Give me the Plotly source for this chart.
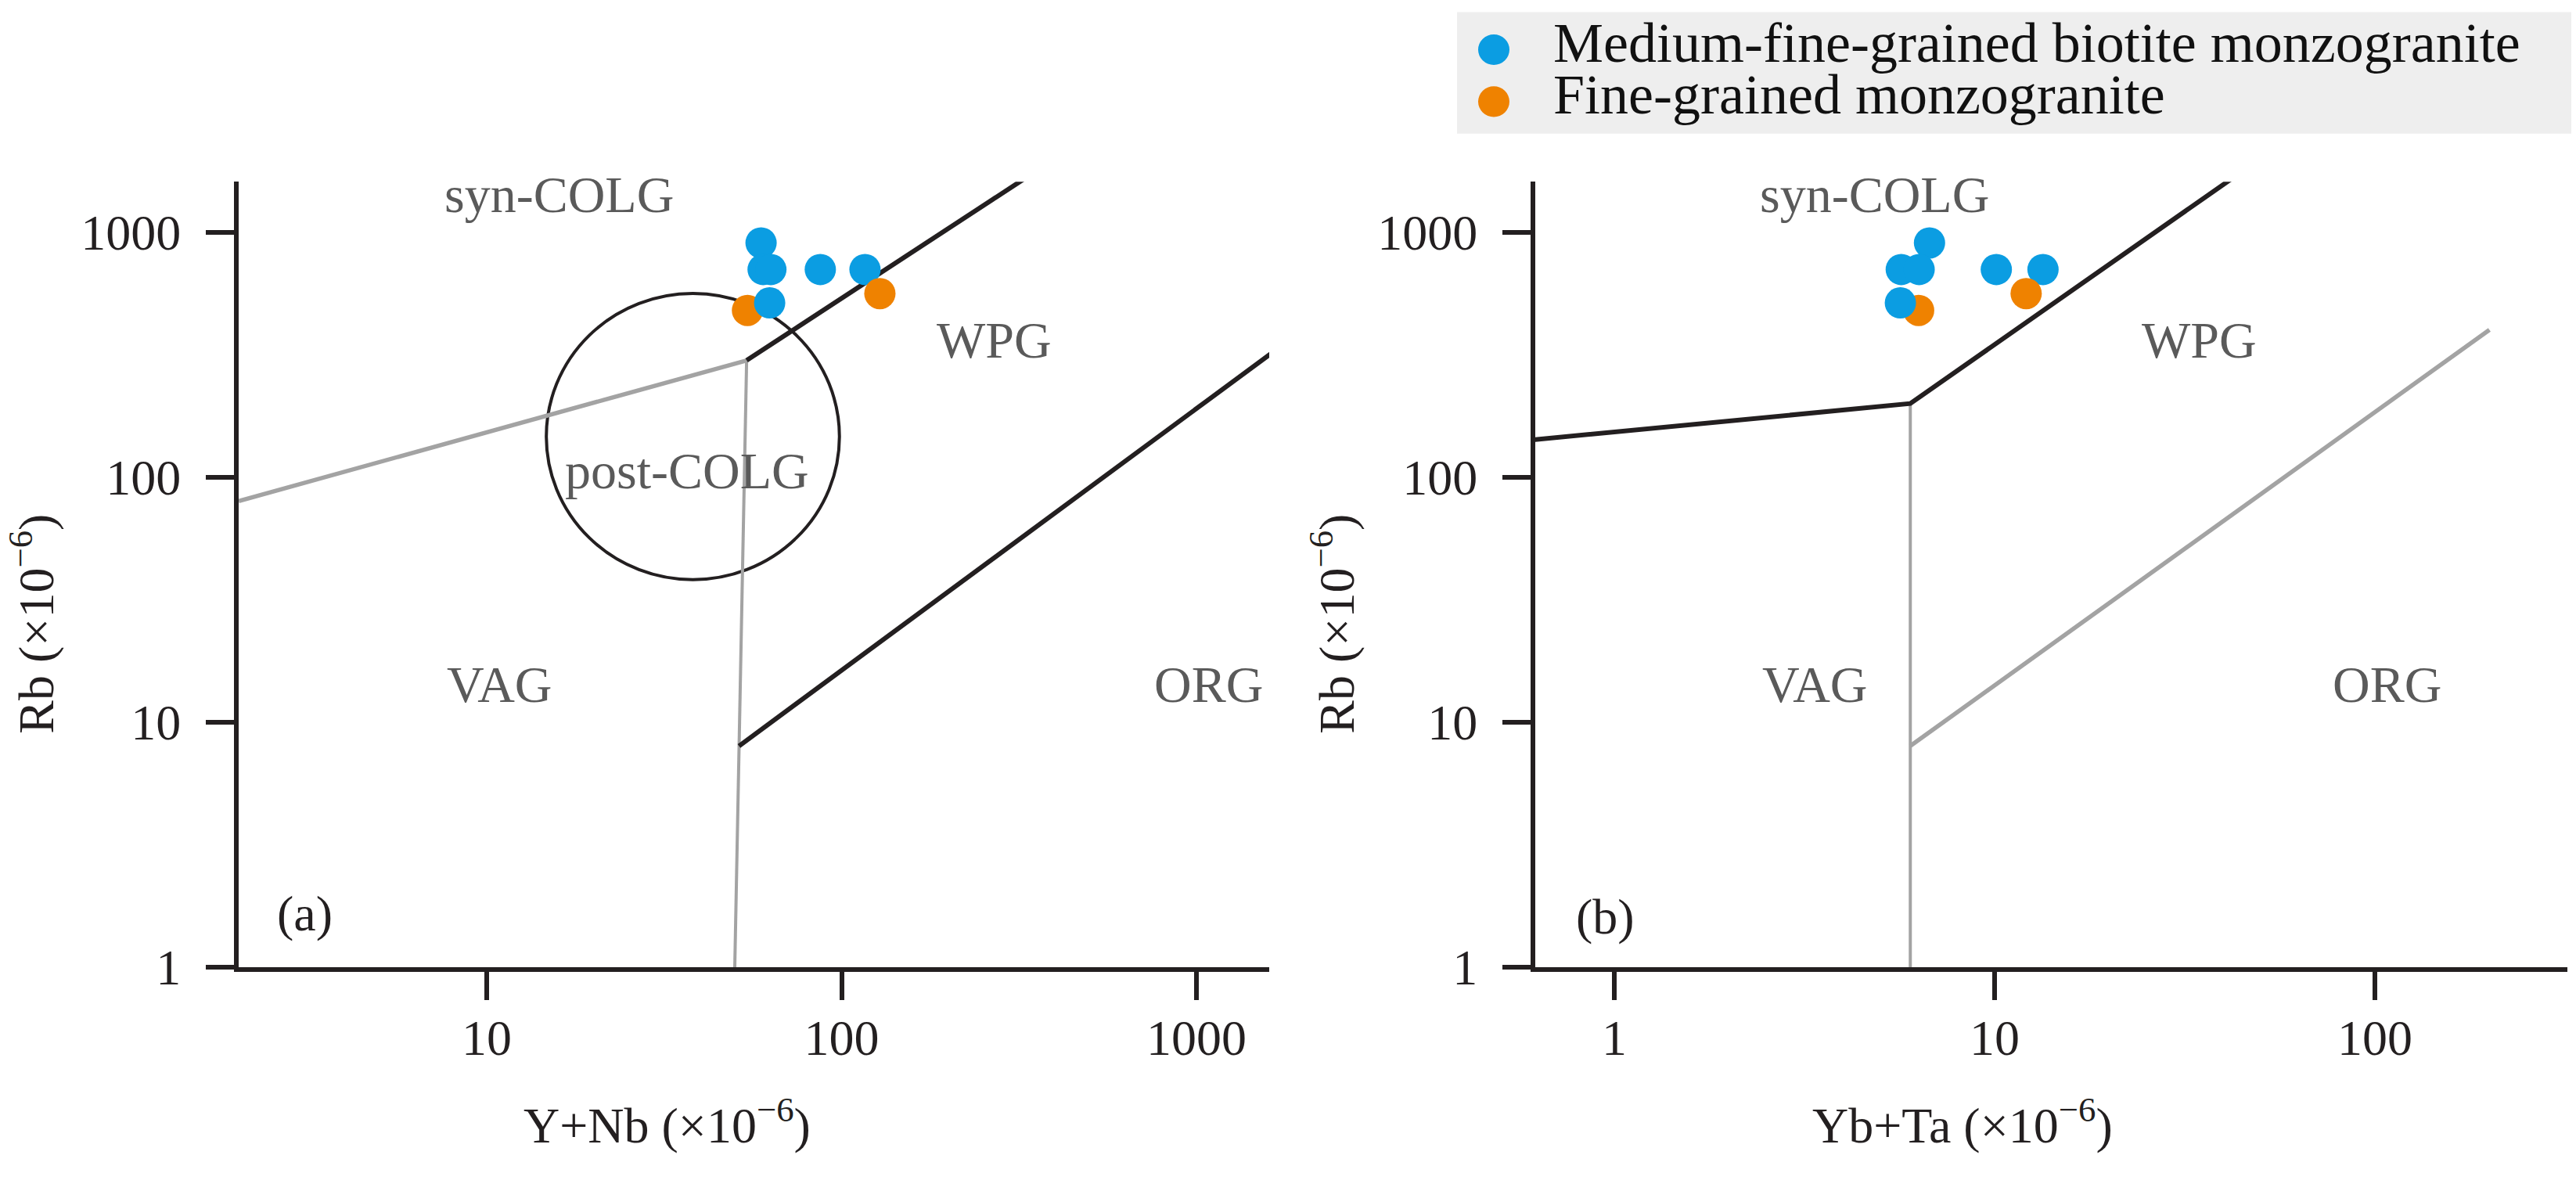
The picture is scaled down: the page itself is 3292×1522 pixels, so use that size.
import numpy as np
import plotly.graph_objects as go

W, H = 3292, 1522
FONT = "Liberation Serif"
INK = "#231f20"
LABEL_GREY = "#5a5a5a"
LINE_GREY = "#a3a3a3"
BLUE = "#0b9de2"
ORANGE = "#ef8200"

series_names = ["Medium-fine-grained biotite monzogranite", "Fine-grained monzogranite"]

# Rb (ppm), shared by both panels
blue_rb = [905, 705, 705, 705, 705, 515]
orange_rb = [480, 562]

# panel (a): Y+Nb (ppm)
blue_ynb = [59.3, 60.1, 63.2, 87.1, 116.4, 62.7]
orange_ynb = [54.3, 128.2]

# panel (b): Yb+Ta (ppm)
blue_ybta = [6.74, 5.68, 6.33, 10.1, 13.4, 5.65]
orange_ybta = [6.31, 12.1]

# discrimination boundaries, panel (a)
a_wpg_x, a_wpg_y = [54, 400], [300, 2000]
a_org_x, a_org_y = [51.4, 2000], [8, 400]
a_vag_x, a_vag_y = [2, 54], [80, 300]
a_vert_x, a_vert_y = [50, 54], [1, 300]
# post-COLG field: centre (Y+Nb, Rb) and radius in decades (x, y)
postcolg_centre = (38.1, 146.6)
postcolg_radius = (0.413, 0.584)

# discrimination boundaries, panel (b)
b_wpg_x, b_wpg_y = [0.55, 6, 50], [140, 200, 2000]
b_org_x, b_org_y = [6, 200], [8, 400]
b_vert_x, b_vert_y = [6, 6], [1, 200]

a_ticks_x = [10, 100, 1000]
b_ticks_x = [1, 10, 100]
ticks_y = [1, 10, 100, 1000]


def px_x(p):
    return p / W


def px_y(p):
    return 1 - p / H


fig = go.Figure()


def line(x, y, color, width, xa, ya):
    fig.add_trace(go.Scatter(x=x, y=y, mode="lines", xaxis=xa, yaxis=ya,
                             line=dict(color=color, width=width),
                             hoverinfo="skip", showlegend=False))


def samples(bx, ox, xa, ya):
    # first orange sample sits under the blue dots, the second one on top
    x = [ox[0]] + bx + [ox[1]]
    y = [orange_rb[0]] + blue_rb + [orange_rb[1]]
    cols = [ORANGE] + [BLUE] * len(bx) + [ORANGE]
    names = [series_names[1]] + [series_names[0]] * len(bx) + [series_names[1]]
    fig.add_trace(go.Scatter(x=x, y=y, mode="markers", xaxis=xa, yaxis=ya,
                             text=names, hoverinfo="x+y+text",
                             marker=dict(color=cols, size=40, line=dict(width=0)),
                             showlegend=False))


# panel (a)
line(a_vag_x, a_vag_y, LINE_GREY, 5.5, "x", "y")
line(a_vert_x, a_vert_y, LINE_GREY, 4, "x", "y")
line(a_wpg_x, a_wpg_y, INK, 6, "x", "y")
line(a_org_x, a_org_y, INK, 6, "x", "y")
samples(blue_ynb, orange_ynb, "x", "y")

# panel (b)
line(b_vert_x, b_vert_y, LINE_GREY, 4, "x2", "y2")
line(b_org_x, b_org_y, LINE_GREY, 5.5, "x2", "y2")
line(b_wpg_x, b_wpg_y, INK, 6, "x2", "y2")
samples(blue_ybta, orange_ybta, "x2", "y2")

cx, cy = np.log10(postcolg_centre[0]), np.log10(postcolg_centre[1])
rx, ry = postcolg_radius
shapes = [dict(type="circle", xref="x", yref="y", layer="below",
               x0=10 ** (cx - rx), x1=10 ** (cx + rx),
               y0=10 ** (cy - ry), y1=10 ** (cy + ry),
               line=dict(color=INK, width=4))]

# legend box drawn by hand so the dots keep their plotted size
shapes.append(dict(type="rect", xref="paper", yref="paper", layer="below",
                   x0=px_x(1862), x1=px_x(3286), y0=px_y(175), y1=px_y(16),
                   fillcolor="#eeeeee", line=dict(width=0)))
legend_rows = [(65, BLUE), (133, ORANGE)]
for yc, col in legend_rows:
    shapes.append(dict(type="circle", xref="paper", yref="paper",
                       x0=px_x(1889), x1=px_x(1929), y0=px_y(yc + 20), y1=px_y(yc - 20),
                       fillcolor=col, line=dict(width=0)))

annotations = []
for yc, name in zip([56, 124], series_names):
    annotations.append(dict(text=name, xref="paper", yref="paper", x=px_x(1983), y=px_y(yc),
                            xanchor="left", yanchor="middle", showarrow=False,
                            font=dict(family=FONT, size=72, color="#111111")))

region_labels_a = [("syn-COLG", 1.203, 3.156), ("post-COLG", 1.564, 2.026), ("WPG", 2.429, 2.560),
                   ("VAG", 1.035, 1.155), ("ORG", 3.035, 1.155)]
region_labels_b = [("syn-COLG", 0.683, 3.156), ("WPG", 1.537, 2.560),
                   ("VAG", 0.527, 1.155), ("ORG", 2.031, 1.155)]
for labels, xr, yr in [(region_labels_a, "x", "y"), (region_labels_b, "x2", "y2")]:
    for txt, lx, ly in labels:
        annotations.append(dict(text=txt, xref=xr, yref=yr, x=lx, y=ly, showarrow=False,
                                xanchor="center", yanchor="middle",
                                font=dict(family=FONT, size=66, color=LABEL_GREY)))

for txt, lx, ly, xr, yr in [("(a)", 0.488, 0.218, "x", "y"), ("(b)", -0.023, 0.205, "x2", "y2")]:
    annotations.append(dict(text=txt, xref=xr, yref=yr, x=lx, y=ly, showarrow=False,
                            xanchor="center", yanchor="middle",
                            font=dict(family=FONT, size=64, color=INK)))

unit = " (×10<sup>−6</sup>)"
for txt, x, y, ang in [("Y+Nb" + unit, 852, 1468, 0), ("Yb+Ta" + unit, 2508, 1468, 0),
                       ("Rb" + unit, 42, 817, -90), ("Rb" + unit, 1704, 817, -90)]:
    annotations.append(dict(text=txt, xref="paper", yref="paper", x=px_x(x), y=px_y(y),
                            xanchor="center", yanchor="middle", showarrow=False, textangle=ang,
                            font=dict(family=FONT, size=64, color=INK)))

axis_style = dict(type="log", showgrid=False, zeroline=False, showline=True,
                  linecolor=INK, linewidth=6, ticks="outside", ticklen=36, tickwidth=6,
                  tickcolor=INK, tickfont=dict(family=FONT, size=64, color=INK))

fig.update_layout(
    width=W, height=H,
    margin=dict(l=0, r=0, t=0, b=0),
    paper_bgcolor="white", plot_bgcolor="white",
    showlegend=False,
    shapes=shapes, annotations=annotations,
    xaxis=dict(axis_style, domain=[px_x(305), px_x(1622)], range=[0.301, 3.205],
               tickvals=a_ticks_x, ticktext=[str(v) for v in a_ticks_x],
               anchor="y", ticklabelstandoff=-7),
    yaxis=dict(axis_style, domain=[px_y(1266), px_y(238)], range=[0, 3.206],
               tickvals=ticks_y, ticktext=[str(v) for v in ticks_y],
               anchor="x", ticklabelstandoff=19),
    xaxis2=dict(axis_style, domain=[px_x(1962), px_x(3281)], range=[-0.208, 2.506],
                tickvals=b_ticks_x, ticktext=[str(v) for v in b_ticks_x],
                anchor="y2", ticklabelstandoff=-7),
    yaxis2=dict(axis_style, domain=[px_y(1266), px_y(238)], range=[0, 3.206],
                tickvals=ticks_y, ticktext=[str(v) for v in ticks_y],
                anchor="x2", ticklabelstandoff=19),
)

fig.write_html("out.html", config={"displayModeBar": False},
               post_script="document.body.style.margin='0px';")
